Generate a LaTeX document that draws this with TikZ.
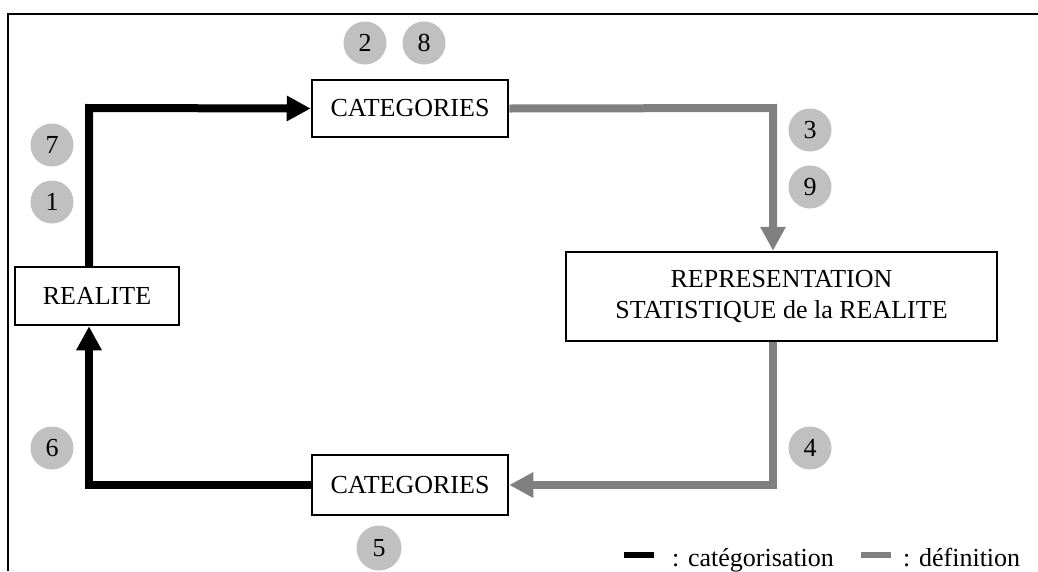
\documentclass[tikz,border=0pt]{standalone}
\usepackage{fontspec}
\setmainfont{Liberation Serif}
\usetikzlibrary{arrows.meta}
\definecolor{defgray}{RGB}{128,128,128}
\definecolor{numgray}{RGB}{192,192,192}
\begin{document}
\begin{tikzpicture}[x=1pt, y=-1pt,
        every node/.style = {font=\fontsize{26}{31}\selectfont},
        box/.style = {draw, line width=2.5pt, fill=white, align=center},
        num/.style = {circle, fill=numgray, minimum size=43pt, inner sep=0pt},
        cat/.style = {line width=8pt, line join=miter, -{Triangle[length=24pt, width=24pt]}},
        def/.style = {cat, draw=defgray},
        legbar/.style = {minimum width=30pt, minimum height=6pt, inner sep=0pt}]
    \useasboundingbox (0,0) rectangle (1038,571);
    \draw[line width=2.5pt] (8,571) -- (8,14) -- (1038,14);
    % boxes
    \node[box, minimum width=164pt, minimum height=58pt] (real) at (97,296) {REALITE};
    \node[box, minimum width=196pt, minimum height=57pt] (cattop) at (410,108.5) {CATEGORIES};
    \node[box, minimum width=196pt, minimum height=60pt] (catbot) at (410,485) {CATEGORIES};
    \node[box, minimum width=431pt, minimum height=89pt] (rep) at (781.5,296.5)
        {REPRESENTATION\\STATISTIQUE de la REALITE};
    % corners
    \coordinate (tl) at (89,108);
    \coordinate (tr) at (773,108);
    \coordinate (br) at (773,485);
    \coordinate (bl) at (89,485);
    % arrows
    \draw[cat] (real.north -| tl) -- (tl) -- (cattop.west);
    \draw[def] (cattop.east) -- (tr) -- (tr |- rep.north);
    \draw[def] (tr |- rep.south) -- (br) -- (catbot.east);
    \draw[cat] (catbot.west) -- (bl) -- (bl |- real.south);
    % numbers
    \node[num] (n1) at (52,202) {1};
    \node[num] (n2) at (365,43) {2};
    \node[num] (n3) at (810,130) {3};
    \node[num] (n4) at (810,448) {4};
    \node[num, minimum size=45pt] (n5) at (379,548) {5};
    \node[num] (n6) at (52,448) {6};
    \node[num] (n7) at (52,145) {7};
    \node[num] (n8) at (424,43) {8};
    \node[num] (n9) at (810,187) {9};
    % legend
    \node[legbar, fill=black] (lcat) at (639,555) {};
    \node[anchor=base west, inner sep=0pt] (tcat) at (672,566) {: catégorisation};
    \node[legbar, fill=defgray] (ldef) at (876,555) {};
    \node[anchor=base west, inner sep=0pt] (tdef) at (903,566) {: définition};
\end{tikzpicture}
\end{document}
